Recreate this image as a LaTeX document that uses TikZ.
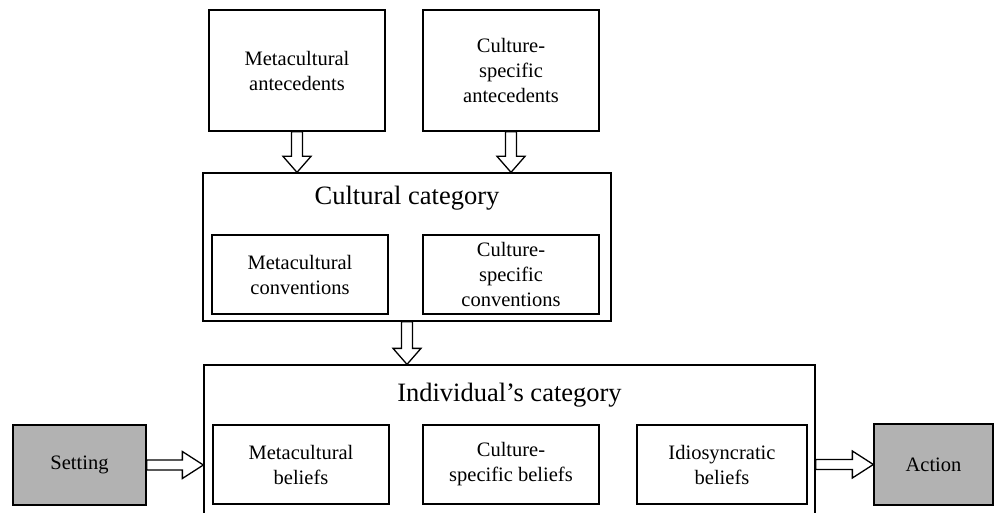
\documentclass[tikz,border=0pt]{standalone}
\usepackage{fontspec}
\setmainfont{Liberation Serif}
\usetikzlibrary{calc}
\tikzset{
  box/.style={draw, line width=1.3pt, minimum width=176pt, minimum height=79pt, inner sep=0pt, align=center, font=\fontsize{20.5}{25}\selectfont},
  bigbox/.style={draw, line width=1.3pt, inner sep=0pt},
  titletext/.style={inner sep=0pt, font=\fontsize{26.5}{30}\selectfont},
  graybox/.style={box, fill=black!30},
  hollow/.style={draw, line width=1.3pt, fill=white, line join=miter},
}
\newcommand{\fatdown}[2]{%
  \draw[hollow] ($(#1)+(-5.5,0)$) -- ($(#2)+(-5.5,-16)$) -- ($(#2)+(-14,-16)$) -- (#2)
    -- ($(#2)+(14,-16)$) -- ($(#2)+(5.5,-16)$) -- ($(#1)+(5.5,0)$) -- cycle;}
\newcommand{\fatright}[2]{%
  \draw[hollow] ($(#1)+(0,-5)$) -- ($(#2)+(-21,-5)$) -- ($(#2)+(-21,-13.5)$) -- (#2)
    -- ($(#2)+(-21,13.5)$) -- ($(#2)+(-21,5)$) -- ($(#1)+(0,5)$) -- cycle;}
\begin{document}
\begin{tikzpicture}[x=1pt,y=-1pt]
\useasboundingbox (0,0) rectangle (994,513);
\clip (0,0) rectangle (994,513);
% top antecedents
\node[box, minimum height=121pt] (ma) at (297,70.5) {Metacultural\\antecedents};
\node[box, minimum height=121pt] (ca) at (511,70.5) {Culture-\\specific\\antecedents};
% cultural category
\node[bigbox, minimum width=408pt, minimum height=148pt] (cc) at (407,247) {};
\node[titletext] (cct) at (407,198) {Cultural category};
\node[box] (mc) at (300,274.5) {Metacultural\\conventions};
\node[box] (csc) at (511,274.5) {Culture-\\specific\\conventions};
% individual's category
\node[bigbox, minimum width=611pt, minimum height=165pt] (ic) at (509.5,447.5) {};
\node[titletext] (ict) at (509.5,395) {Individual’s category};
\node[box] (mb) at (301,464.5) {Metacultural\\beliefs};
\node[box] (csb) at (511,464.5) {Culture-\\specific beliefs};
\node[box, minimum width=170pt] (ib) at (722,464.5) {Idiosyncratic\\beliefs};
% setting and action
\node[graybox, minimum width=133pt, minimum height=80pt] (set) at (79.5,465) {Setting};
\node[graybox, minimum width=119pt, minimum height=81pt] (act) at (933.5,464.5) {Action};
% connectors
\coordinate (t1) at (ma.south |- cc.north);
\coordinate (t2) at (ca.south |- cc.north);
\coordinate (t3) at (cc.south |- ic.north);
\coordinate (t4) at (set.east -| ic.west);
\coordinate (s5) at (act.west -| ic.east);
\fatdown{ma.south}{t1}
\fatdown{ca.south}{t2}
\fatdown{cc.south}{t3}
\fatright{set.east}{t4}
\fatright{s5}{act.west}
\end{tikzpicture}
\end{document}
